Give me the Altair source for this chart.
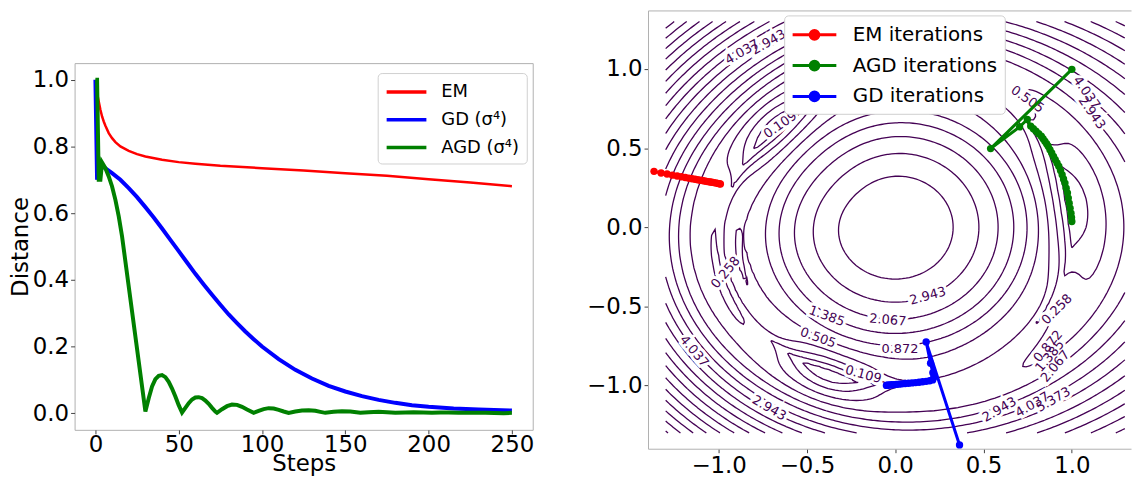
import numpy as np
import pandas as pd
import altair as alt

FONT = "DejaVu Sans"
PURPLE = "#440154"
SPINE = "#b0b0b0"

# ---------------- left panel: distance vs steps ----------------
em_steps = [0, 1, 2, 3, 4, 5, 6, 8, 10, 12, 15, 20, 25, 30, 40, 50, 60, 75, 100, 125, 150, 175, 200, 225, 250]
em_dist = [1.0, 0.96, 0.935, 0.91, 0.89, 0.875, 0.862, 0.84, 0.825, 0.813, 0.80, 0.787, 0.777, 0.77, 0.76,
           0.753, 0.748, 0.742, 0.735, 0.728, 0.72, 0.712, 0.702, 0.692, 0.681]

gd_steps = [0, 1, 2, 3, 5, 10, 15, 20, 25, 30, 35, 40, 45, 50, 55, 60, 65, 70, 75, 80, 85, 90, 95, 100,
            110, 120, 130, 140, 150, 160, 170, 180, 190, 200, 215, 230, 250]
gd_dist = [1.0, 0.70, 0.745, 0.745, 0.738, 0.72, 0.70, 0.675, 0.648, 0.618, 0.587, 0.554, 0.52, 0.486, 0.452,
           0.418, 0.386, 0.355, 0.325, 0.296, 0.27, 0.245, 0.222, 0.2, 0.162, 0.13, 0.104, 0.082, 0.065,
           0.051, 0.04, 0.031, 0.024, 0.019, 0.014, 0.011, 0.008]

agd_steps = [0, 1, 2, 3, 4, 6, 8, 10, 12, 14, 16, 18, 20, 22, 24, 26, 28, 30,
             32, 34, 36, 38, 40, 42, 44, 46, 48, 50, 52,
             54, 56, 58, 60, 62, 64, 66, 68, 70, 72, 73,
             76, 79, 82, 85, 88, 91, 95,
             98, 101, 104, 107, 110, 113, 116,
             120, 124, 128, 132, 135, 138,
             143, 148, 153, 159,
             164, 170, 175, 180,
             186, 191, 197, 202,
             207, 212, 218, 223, 234, 245, 250]
agd_dist = [1.0, 1.0, 0.70, 0.70, 0.752, 0.735, 0.71, 0.68, 0.64, 0.59, 0.53, 0.455, 0.38, 0.305, 0.23, 0.155, 0.08, 0.005,
            0.045, 0.08, 0.102, 0.112, 0.114, 0.108, 0.094, 0.074, 0.05, 0.024, 0.002,
            0.016, 0.030, 0.041, 0.047, 0.048, 0.045, 0.038, 0.028, 0.016, 0.005, 0.001,
            0.012, 0.021, 0.026, 0.025, 0.019, 0.011, 0.001,
            0.007, 0.012, 0.015, 0.014, 0.010, 0.005, 0.001,
            0.005, 0.008, 0.009, 0.007, 0.004, 0.001,
            0.004, 0.006, 0.005, 0.001,
            0.003, 0.004, 0.003, 0.001,
            0.002, 0.003, 0.002, 0.001,
            0.002, 0.002, 0.001, 0.001, 0.001, 0.0, 0.001]

series_names = ["EM", "GD (σ⁴)", "AGD (σ⁴)"]
series_colors = ["#ff0000", "#0000ff", "#008000"]
series_widths = [2.5, 4.0, 4.0]

# ---------------- right panel: iterations ----------------
em_x = [-1.366, -1.326, -1.292, -1.262, -1.235, -1.211, -1.189, -1.169, -1.151, -1.134, -1.119, -1.105,
        -1.092, -1.080, -1.069, -1.058, -1.048, -1.038, -1.027, -1.016, -1.005, -0.996, -0.990]
em_y = [0.353, 0.343, 0.336, 0.329, 0.324, 0.319, 0.314, 0.310, 0.306, 0.303, 0.300, 0.297,
        0.295, 0.292, 0.290, 0.288, 0.286, 0.284, 0.282, 0.280, 0.277, 0.275, 0.273]

agd_x = [1.000, 0.540, 0.704, 0.748, 0.767, 0.782, 0.797, 0.812, 0.827, 0.837, 0.847, 0.857, 0.866, 0.876,
         0.886, 0.896, 0.906, 0.916, 0.926, 0.936, 0.945, 0.953, 0.961, 0.968, 0.975, 0.980, 0.985, 0.990,
         0.995, 0.998, 1.000]
agd_y = [0.998, 0.497, 0.634, 0.681, 0.639, 0.623, 0.607, 0.591, 0.575, 0.559, 0.543, 0.528, 0.512, 0.490,
         0.469, 0.448, 0.427, 0.406, 0.385, 0.358, 0.332, 0.305, 0.279, 0.247, 0.216, 0.184, 0.152, 0.120,
         0.089, 0.062, 0.036]

gd_x = [0.364, 0.175, 0.200, 0.213, 0.218, 0.212, 0.195, 0.175, 0.155, 0.135, 0.115, 0.095, 0.075, 0.056,
        0.038, 0.021, 0.006, -0.008, -0.020, -0.031, -0.040, -0.046, -0.050]
gd_y = [-1.376, -0.725, -0.860, -0.920, -0.950, -0.965, -0.970, -0.974, -0.977, -0.980, -0.982, -0.984,
        -0.986, -0.988, -0.990, -0.992, -0.993, -0.995, -0.996, -0.997, -0.998, -0.999, -1.000]

method_names = ["EM iterations", "AGD iterations", "GD iterations"]
method_colors = ["#ff0000", "#008000", "#0000ff"]

# contour levels (the labelled ones, plus the unlabelled ones)
contour_levels = [0.004, 0.032, 0.109, 0.258, 0.505, 0.872, 1.385, 2.067, 2.943, 4.037, 5.373,
                  6.972, 8.865, 11.07, 13.62, 16.53, 19.82, 23.53, 27.68, 32.28, 37.37]

# contour label annotations
clabel_text = ["4.037", "2.943", "0.109", "0.505", "4.037", "2.943", "0.258", "2.943", "1.385", "2.067",
               "0.505", "0.872", "0.109", "4.037", "2.943", "0.258", "0.872", "1.385", "2.067", "2.943",
               "4.037", "5.373"]
clabel_x = [-0.867, -0.717, -0.651, 0.748, 1.083, 1.113, -0.961, 0.185, -0.388, -0.042,
            -0.437, 0.027, -0.181, -1.139, -0.714, 0.916, 0.866, 0.876, 0.906, 0.590,
            0.777, 0.896]
clabel_y = [1.107, 1.169, 0.647, 0.808, 0.850, 0.723, -0.287, -0.435, -0.562, -0.587,
            -0.699, -0.767, -0.931, -0.784, -1.143, -0.519, -0.752, -0.815, -0.879, -1.153,
            -1.122, -1.090]
clabel_angle = [330, 330, 325, 35, 55, 55, 310, 345, 20, 5,
                20, 0, 15, 50, 30, 315, 310, 310, 310, 330,
                330, 330]

# shape of the background surface (three elongated minima on a ring)
WELL_ANGLE = [8.0, 137.0, 248.0]
WELL_WIDTH = [28.0, 22.0, 18.0]

# ---------------- surface + marching squares ----------------
grid = np.linspace(-1.3, 1.3, 131)
GX, GY = np.meshgrid(grid, grid)


def angdiff(a, b):
    return (a - b + 180.0) % 360.0 - 180.0


r = np.hypot(GX, GY)
phi = np.degrees(np.arctan2(GY, GX))
phr = np.radians(phi)
R = 1.0 - 0.07 * np.exp(-(angdiff(phi, 137.0) / 40.0) ** 2)
rho2 = (r / R) ** 2
g_in = 1.74 - 1.33 * rho2 - 0.41 * np.exp((rho2 - 1.0) / 0.2)
slope = 2.9 - 0.78 * np.cos(phr) - 0.5 * np.cos(2 * phr)
g_out = slope * (r - R)
g = np.where(r <= R, g_in, g_out)
wells = sum(np.exp(-(angdiff(phi, a) / w) ** 2) for a, w in zip(WELL_ANGLE, WELL_WIDTH))
W = 0.58 - 0.08 * np.exp(-(angdiff(phi, 315.0) / 35.0) ** 2)
g = g + W * np.clip(1.0 - wells, 0, 1) * np.exp(-((r - R) / 0.12) ** 2)
Z = np.clip(g, 0, None) ** 3


def march(Z, gx, gy, level):
    B = Z > level
    idx = (B[:-1, :-1].astype(int) + 2 * B[:-1, 1:] + 4 * B[1:, 1:] + 8 * B[1:, :-1])
    js, iss = np.nonzero((idx != 0) & (idx != 15))
    segs = []
    for j, i in zip(js.tolist(), iss.tolist()):
        c = idx[j, i]
        b = ('h', i, j); t = ('h', i, j + 1); lft = ('v', i, j); rgt = ('v', i + 1, j)
        if c in (1, 14):
            segs.append((lft, b))
        elif c in (2, 13):
            segs.append((b, rgt))
        elif c in (3, 12):
            segs.append((lft, rgt))
        elif c in (4, 11):
            segs.append((rgt, t))
        elif c in (6, 9):
            segs.append((b, t))
        elif c in (7, 8):
            segs.append((lft, t))
        elif c == 5:
            if Z[j:j + 2, i:i + 2].mean() > level:
                segs += [(b, rgt), (lft, t)]
            else:
                segs += [(lft, b), (rgt, t)]
        elif c == 10:
            if Z[j:j + 2, i:i + 2].mean() > level:
                segs += [(lft, b), (rgt, t)]
            else:
                segs += [(b, rgt), (lft, t)]

    def pt(e):
        kind, i, j = e
        if kind == 'h':
            z0, z1 = Z[j, i], Z[j, i + 1]
            tt = (level - z0) / (z1 - z0)
            return gx[i] + tt * (gx[i + 1] - gx[i]), gy[j]
        z0, z1 = Z[j, i], Z[j + 1, i]
        tt = (level - z0) / (z1 - z0)
        return gx[i], gy[j] + tt * (gy[j + 1] - gy[j])

    adj = {}
    for k, (a, bb) in enumerate(segs):
        adj.setdefault(a, []).append(k)
        adj.setdefault(bb, []).append(k)
    used = [False] * len(segs)

    def walk(start, k):
        chain = [start]
        cur = start
        while k is not None:
            used[k] = True
            a, bb = segs[k]
            nxt = bb if a == cur else a
            chain.append(nxt)
            cur = nxt
            k = next((m for m in adj[cur] if not used[m]), None)
        return chain

    paths = []
    for e, ks in adj.items():
        if len(ks) == 1 and not used[ks[0]]:
            paths.append(walk(e, ks[0]))
    for k in range(len(segs)):
        if not used[k]:
            paths.append(walk(segs[k][0], k))
    return [[pt(e) for e in p] for p in paths]


crow = []
pid = 0
for lev in contour_levels:
    for path in march(Z, grid, grid, lev):
        for o, (px, py) in enumerate(path):
            crow.append({"x": round(float(px), 4), "y": round(float(py), 4), "pid": pid, "o": o})
        pid += 1
contour_df = pd.DataFrame(crow)

# ---------------- left chart ----------------
lrows = []
for name, st, dv in zip(series_names, [em_steps, gd_steps, agd_steps], [em_dist, gd_dist, agd_dist]):
    for s, d in zip(st, dv):
        lrows.append({"series": name, "step": s, "dist": d})
left_df = pd.DataFrame(lrows)

lx = alt.X("step:Q", scale=alt.Scale(domain=[-12.5, 262.5], nice=False, zero=False),
           axis=alt.Axis(values=[0, 50, 100, 150, 200, 250], format="d", title="Steps",
                         labelFontSize=23, titleFontSize=23, tickSize=4, labelPadding=0,
                         titlePadding=-4, domain=False, grid=False, tickColor="#444"))
ly = alt.Y("dist:Q", scale=alt.Scale(domain=[-0.05, 1.05], nice=False, zero=False),
           axis=alt.Axis(values=[0.0, 0.2, 0.4, 0.6, 0.8, 1.0], format=".1f", title="Distance",
                         labelFontSize=23, titleFontSize=23, tickSize=4, labelPadding=2,
                         titlePadding=0, domain=False, grid=False, tickColor="#444"))
lcolor = alt.Color("series:N", scale=alt.Scale(domain=series_names, range=series_colors),
                   legend=alt.Legend(title=None, orient="none", legendX=305, legendY=63,
                                     labelFontSize=18, symbolType="M-2,0H2", symbolSize=400,
                                     symbolOffset=10, symbolStrokeWidth=3.5,
                                     fillColor="white", strokeColor="#d0d0d0",
                                     cornerRadius=4, padding=7, rowPadding=7, labelOffset=23,
                                     labelColor="black"))

left_layers = []
for name, w in zip(series_names, series_widths):
    left_layers.append(
        alt.Chart(left_df).transform_filter(alt.datum.series == name)
        .mark_line(strokeWidth=w)
        .encode(x=lx, y=ly, color=lcolor, order="step:Q")
    )
left = alt.layer(*left_layers).properties(width=461, height=369)

spacer = (alt.Chart(pd.DataFrame({"v": [0]})).mark_point(opacity=0)
          .encode(x=alt.value(5), y=alt.value(5))
          .properties(width=461, height=51, view=alt.ViewBackground(stroke="transparent")))

# ---------------- right chart ----------------
xs = alt.Scale(domain=[-1.4, 1.335], nice=False, zero=False)
ys = alt.Scale(domain=[-1.4, 1.37], nice=False, zero=False)
tick_vals = [-1.0, -0.5, 0.0, 0.5, 1.0]
ax_common = dict(values=tick_vals, format=".1f", labelFontSize=23, tickSize=4, labelPadding=2,
                 domainColor=SPINE, tickColor="#444", grid=False, title=None)

contours = alt.Chart(contour_df).mark_line(strokeWidth=1.3, color=PURPLE).encode(
    x=alt.X("x:Q", scale=xs, axis=alt.Axis(orient="bottom", **ax_common)),
    y=alt.Y("y:Q", scale=ys, axis=alt.Axis(orient="left", **ax_common)),
    detail="pid:N", order="o:Q")

lab_df = pd.DataFrame({"t": clabel_text, "x": clabel_x, "y": clabel_y, "a": clabel_angle})
halo = alt.Chart(lab_df).mark_text(fontSize=13, stroke="white", strokeWidth=6, fill="white").encode(
    x=alt.X("x:Q", scale=xs, axis=alt.Axis(orient="top", labels=False, ticks=False, title=None,
                                           domainColor=SPINE, grid=False)),
    y=alt.Y("y:Q", scale=ys, axis=None), text="t:N", angle=alt.Angle("a:Q", scale=None))
labels = alt.Chart(lab_df).mark_text(fontSize=13, color=PURPLE).encode(
    x=alt.X("x:Q", scale=xs, axis=None), y=alt.Y("y:Q", scale=ys, axis=None),
    text="t:N", angle=alt.Angle("a:Q", scale=None))

prow = []
for name, xx, yy in zip(method_names, [em_x, agd_x, gd_x], [em_y, agd_y, gd_y]):
    for i, (a, b) in enumerate(zip(xx, yy)):
        prow.append({"m": name, "x": a, "y": b, "i": i})
path_df = pd.DataFrame(prow)
mscale = alt.Scale(domain=method_names, range=method_colors)
fill_expr = ("datum.value === 'EM iterations' ? '#ff0000' : "
             "(datum.value === 'AGD iterations' ? '#008000' : '#0000ff')")
rleg = alt.Legend(title=None, orient="none", legendX=137, legendY=5, labelFontSize=20,
                  symbolType="M-2,0H2M0.4,0A0.4,0.4,0,1,1,-0.4,0A0.4,0.4,0,1,1,0.4,0Z",
                  symbolSize=484, symbolOffset=11, symbolStrokeWidth=3,
                  symbolFillColor=alt.ExprRef(fill_expr),
                  fillColor="white", strokeColor="#d0d0d0",
                  cornerRadius=4, padding=7, rowPadding=8, labelOffset=26, labelColor="black")

plines = alt.Chart(path_df).mark_line(strokeWidth=3).encode(
    x=alt.X("x:Q", scale=xs, axis=None), y=alt.Y("y:Q", scale=ys, axis=None),
    color=alt.Color("m:N", scale=mscale, legend=rleg), detail="m:N", order="i:Q")
ppoints = alt.Chart(path_df).mark_circle(size=55, opacity=1).encode(
    x=alt.X("x:Q", scale=xs, axis=None), y=alt.Y("y:Q", scale=ys, axis=None),
    color=alt.Color("m:N", scale=mscale, legend=None))

right = (alt.layer(contours, halo, labels, plines, ppoints)
         .resolve_axis(x="independent", y="independent")
         .properties(width=486, height=441, view=alt.ViewBackground(stroke="transparent")))

chart = (alt.hconcat(alt.vconcat(spacer, left, spacing=0), right, spacing=51)
         .resolve_scale(color="independent")
         .properties(padding=0)
         .configure(font=FONT)
         .configure_view(stroke=SPINE)
         .configure_axis(labelFont=FONT, titleFont=FONT, labelColor="black", titleColor="black",
                         titleFontWeight="normal")
         .configure_legend(labelFont=FONT)
         .configure_text(font=FONT))

chart.save("out.html", embed_options={"renderer": "svg", "actions": False})
